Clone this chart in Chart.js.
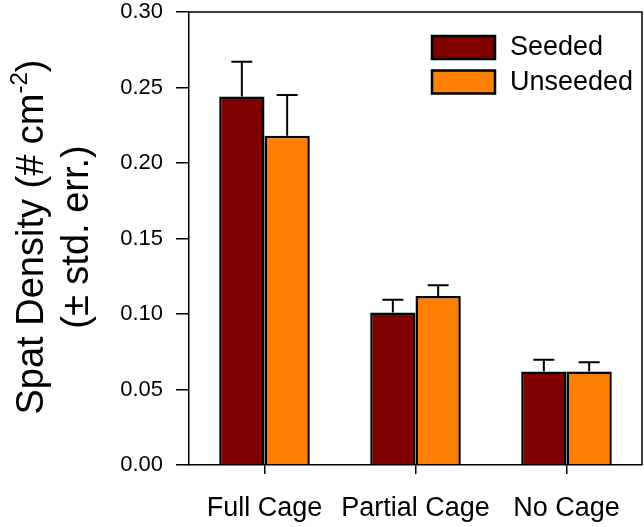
<!DOCTYPE html>
<html>
<head>
<meta charset="utf-8">
<script src="https://cdn.jsdelivr.net/npm/chart.js@4/dist/chart.umd.min.js"></script>
<style>
    body { margin: 0; background: #fff; }
    canvas { display: block; }
</style>
</head>
<body>
<canvas id="myChart" width="644" height="527"></canvas>
<script>
// data
const categories = ['Full Cage', 'Partial Cage', 'No Cage'];
const seeded = [0.244, 0.101, 0.062];
const seededErr = [0.023, 0.0085, 0.0077];
const unseeded = [0.218, 0.112, 0.062];
const unseededErr = [0.027, 0.007, 0.006];
const legendLabels = ['Seeded', 'Unseeded'];

const FONT = '"Liberation Sans", Arial, sans-serif';

// error bars (upper side only, like the original)
const errorBars = {
    id: 'errorBars',
    afterDatasetsDraw(chart) {
        const ctx = chart.ctx;
        const yScale = chart.scales.y;
        ctx.save();
        ctx.strokeStyle = '#000';
        ctx.lineWidth = 2;
        chart.data.datasets.forEach((ds, i) => {
            const meta = chart.getDatasetMeta(i);
            meta.data.forEach((bar, j) => {
                const top = yScale.getPixelForValue(ds.data[j] + ds.errors[j]);
                ctx.beginPath();
                ctx.moveTo(bar.x, bar.y);
                ctx.lineTo(bar.x, top);
                ctx.moveTo(bar.x - 10.5, top);
                ctx.lineTo(bar.x + 10.5, top);
                ctx.stroke();
            });
        });
        ctx.restore();
    }
};

// frame, legend and y title
const extras = {
    id: 'extras',
    afterDraw(chart) {
        const ctx = chart.ctx;
        const a = chart.chartArea;
        ctx.save();
        ctx.strokeStyle = '#000';
        ctx.lineWidth = 1.5;
        ctx.beginPath();
        ctx.moveTo(a.left, a.top);
        ctx.lineTo(a.right, a.top);
        ctx.lineTo(a.right, a.bottom);
        ctx.stroke();

        // legend
        ctx.font = '27px ' + FONT;
        ctx.textBaseline = 'middle';
        ctx.textAlign = 'left';
        chart.data.datasets.forEach((ds, i) => {
            const y = 36 + i * 34.5;
            ctx.fillStyle = ds.backgroundColor;
            ctx.fillRect(432, y, 63, 23);
            ctx.lineWidth = 2.5;
            ctx.strokeRect(432, y, 63, 23);
            ctx.fillStyle = '#000';
            ctx.fillText(legendLabels[i], 510, y + 12);
        });

        // y title with superscript
        ctx.translate(0, 237);
        ctx.rotate(-Math.PI / 2);
        ctx.textBaseline = 'alphabetic';
        const big = '38px ' + FONT;
        const small = '24px ' + FONT;
        const p1 = 'Spat Density (# cm', p2 = '-2', p3 = ')';
        ctx.font = big;
        const w1 = ctx.measureText(p1).width;
        const w3 = ctx.measureText(p3).width;
        ctx.font = small;
        const w2 = ctx.measureText(p2).width;
        let x = -(w1 + w2 + w3) / 2;
        ctx.font = big;
        ctx.fillText(p1, x, 43);
        ctx.font = small;
        ctx.fillText(p2, x + w1, 27);
        ctx.font = big;
        ctx.fillText(p3, x + w1 + w2, 43);
        ctx.textAlign = 'center';
        ctx.fillText('(\u00b1 std. err.)', 0, 88);
        ctx.restore();
    }
};

const ctx = document.getElementById('myChart').getContext('2d');
const myChart = new Chart(ctx, {
    type: 'bar',
    data: {
        labels: categories,
        datasets: [
            {
                label: legendLabels[0],
                data: seeded,
                errors: seededErr,
                backgroundColor: '#800000',
                borderColor: '#000',
                borderWidth: 2.5
            },
            {
                label: legendLabels[1],
                data: unseeded,
                errors: unseededErr,
                backgroundColor: '#ff8000',
                borderColor: '#000',
                borderWidth: 2.5
            }
        ]
    },
    options: {
        responsive: false,
        animation: false,
        devicePixelRatio: 1,
        layout: { padding: { top: 12, right: 2, left: 0, bottom: 0 } },
        datasets: { bar: { categoryPercentage: 0.6, barPercentage: 1.0 } },
        plugins: { legend: { display: false }, tooltip: { enabled: false } },
        scales: {
            x: {
                grid: { offset: false, drawOnChartArea: false, drawTicks: true, tickLength: 9, color: '#000', lineWidth: 1.5 },
                border: { display: true, color: '#000', width: 1.5 },
                ticks: { color: '#000', font: { family: FONT, size: 27 }, padding: 18, maxRotation: 0, autoSkip: false },
                afterFit(scale) { scale.height = 62; scale.paddingLeft = 0; scale.paddingRight = 0; }
            },
            y: {
                min: 0,
                max: 0.3,
                grid: { drawOnChartArea: false, drawTicks: true, tickLength: 13, color: '#000', lineWidth: 1.5 },
                border: { display: true, color: '#000', width: 1.5 },
                ticks: {
                    stepSize: 0.05,
                    color: '#000',
                    font: { family: FONT, size: 22 },
                    padding: 13,
                    callback: v => v.toFixed(2)
                },
                afterFit(scale) { scale.width = 189; scale.paddingTop = 0; scale.paddingBottom = 0; }
            }
        }
    },
    plugins: [errorBars, extras]
});
</script>
</body>
</html>
